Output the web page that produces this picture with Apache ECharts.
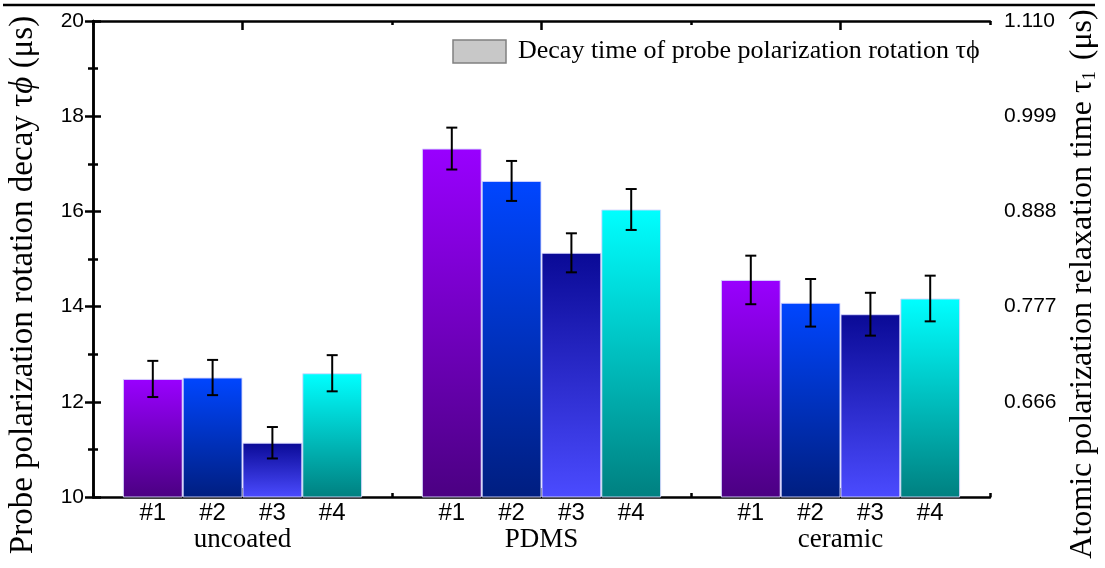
<!DOCTYPE html>
<html>
<head>
<meta charset="utf-8">
<script src="https://cdn.jsdelivr.net/npm/echarts@6/dist/echarts.min.js"></script>
<style>html,body{margin:0;padding:0;background:#fff}#c{width:1105px;height:568px}</style>
</head>
<body>
<div id="c"></div>
<script>
var groups = ['uncoated', 'PDMS', 'ceramic'];
var sampleNames = ['#1', '#2', '#3', '#4'];
var s1 = [12.48, 17.32, 14.56];
var s2 = [12.51, 16.64, 14.08];
var s3 = [11.14, 15.13, 13.84];
var s4 = [12.60, 16.04, 14.17];
var e1 = [0.38, 0.44, 0.51];
var e2 = [0.37, 0.42, 0.50];
var e3 = [0.33, 0.41, 0.45];
var e4 = [0.38, 0.43, 0.48];
var leftTicks = [10, 12, 14, 16, 18, 20];
var rightTicks = ['0.555', '0.666', '0.777', '0.888', '0.999', '1.110'];
var legendText = 'Decay time of probe polarization rotation τϕ';

var values = [s1, s2, s3, s4];
var errs = [e1, e2, e3, e4];
var gradients = [
  ['#9900ff', '#4b0082'],
  ['#0046ff', '#001e80'],
  ['#0a0a96', '#4b4bff'],
  ['#00ffff', '#008080']
];

var chart = echarts.init(document.getElementById('c'));
var series = [];
values.forEach(function (vals, i) {
  series.push({
    type: 'bar',
    name: sampleNames[i],
    xAxisIndex: 0,
    yAxisIndex: 0,
    barGap: '0%',
    barCategoryGap: '20%',
    data: vals,
    itemStyle: {
      color: new echarts.graphic.LinearGradient(0, 0, 0, 1, [
        {offset: 0, color: gradients[i][0]},
        {offset: 1, color: gradients[i][1]}
      ]),
      borderColor: 'rgba(215,215,255,0.9)',
      borderWidth: 1
    },
    label: {
      show: true,
      position: 'bottom',
      distance: 4,
      formatter: sampleNames[i],
      color: '#000',
      fontFamily: 'Liberation Sans, Arial',
      fontSize: 24
    },
    z: 2
  });
});
values.forEach(function (vals, i) {
  series.push({
    type: 'custom',
    name: 'err' + i,
    xAxisIndex: 0,
    yAxisIndex: 0,
    z: 5,
    data: vals.map(function (v, k) { return [k, v, errs[i][k]]; }),
    renderItem: function (params, api) {
      var cat = api.value(0), v = api.value(1), e = api.value(2);
      var c = api.coord([cat, v]);
      var band = api.size([1, 0])[0];
      var bw = band * 0.8 / 4;
      var x = c[0] + (i - 1.5) * bw;
      var yt = api.coord([cat, v + e])[1];
      var yb = api.coord([cat, v - e])[1];
      var cap = 5.5;
      var st = {stroke: '#000', lineWidth: 2};
      return {
        type: 'group',
        children: [
          {type: 'line', shape: {x1: x, y1: yt, x2: x, y2: yb}, style: st},
          {type: 'line', shape: {x1: x - cap, y1: yt, x2: x + cap, y2: yt}, style: st},
          {type: 'line', shape: {x1: x - cap, y1: yb, x2: x + cap, y2: yb}, style: st}
        ]
      };
    }
  });
});

var axisLine = {show: true, lineStyle: {color: '#000', width: 2.5}};
chart.setOption({
  animation: false,
  backgroundColor: '#fff',
  grid: {left: 93, right: 115, top: 21, bottom: 71, containLabel: false},
  xAxis: [
    {
      type: 'category', position: 'bottom', data: groups,
      axisLine: axisLine,
      axisTick: {show: true, inside: true, alignWithLabel: true, length: 9, lineStyle: {color: '#000', width: 2.5}},
      axisLabel: {margin: 29, color: '#000', fontFamily: 'Liberation Serif, Times New Roman', fontSize: 27},
      splitLine: {show: false}
    },
    {
      type: 'category', position: 'top', data: groups,
      axisLine: axisLine,
      axisTick: {show: true, inside: true, alignWithLabel: true, length: 9, lineStyle: {color: '#000', width: 2.5}},
      axisLabel: {show: false},
      splitLine: {show: false}
    },
    {
      type: 'value', position: 'bottom', min: 0, max: 3, interval: 1,
      axisLine: {show: false},
      axisTick: {show: true, inside: true, length: 4, lineStyle: {color: '#000', width: 2.5}},
      axisLabel: {show: false}, splitLine: {show: false}
    },
    {
      type: 'value', position: 'top', min: 0, max: 3, interval: 1,
      axisLine: {show: false},
      axisTick: {show: true, inside: true, length: 4, lineStyle: {color: '#000', width: 2.5}},
      axisLabel: {show: false}, splitLine: {show: false}
    }
  ],
  yAxis: [
    {
      type: 'value', position: 'left', min: leftTicks[0], max: leftTicks[leftTicks.length - 1], interval: 2,
      axisLine: axisLine,
      axisTick: {show: true, inside: true, length: 8, lineStyle: {color: '#000', width: 2.5}},
      minorTick: {show: true, splitNumber: 2, length: 5, lineStyle: {color: '#000', width: 2.5}},
      axisLabel: {color: '#000', fontFamily: 'Liberation Sans, Arial', fontSize: 21, margin: 9},
      splitLine: {show: false}
    },
    {
      type: 'value', position: 'right', min: 0.555, max: 1.110, interval: 0.111,
      axisLine: axisLine,
      axisTick: {show: true, inside: true, length: 8, lineStyle: {color: '#000', width: 2.5}},
      minorTick: {show: true, splitNumber: 2, length: 5, lineStyle: {color: '#000', width: 2.5}},
      axisLabel: {
        color: '#000', fontFamily: 'Liberation Sans, Arial', fontSize: 21, margin: 14,
        formatter: function (v) {
          var s = v.toFixed(3);
          return s === rightTicks[0] ? '' : s;
        }
      },
      splitLine: {show: false}
    }
  ],
  graphic: [
    {type: 'line', shape: {x1: 3, y1: 5, x2: 1095, y2: 5}, style: {stroke: '#000', lineWidth: 2.5}},
    {type: 'rect', shape: {x: 453, y: 40, width: 53, height: 23}, style: {fill: '#c8c8c8', stroke: '#808080', lineWidth: 1.5}},
    {type: 'text', left: 518, top: 38, style: {text: legendText, fill: '#000', font: '26px "Liberation Serif", "Times New Roman", serif'}},
    {
      type: 'text', x: 23, y: 285, rotation: Math.PI / 2,
      style: {
        text: 'Probe polarization rotation decay τ{i|ϕ} (μs)',
        rich: {i: {fontStyle: 'italic', fontSize: 33, fontFamily: 'Liberation Serif'}},
        fill: '#000', fontSize: 33, fontFamily: 'Liberation Serif, Times New Roman',
        align: 'center', verticalAlign: 'middle'
      }
    },
    {
      type: 'text', x: 1083, y: 284, rotation: Math.PI / 2,
      style: {
        text: 'Atomic polarization relaxation time τ{s|1} (μs)',
        rich: {s: {fontSize: 18, fontFamily: 'Liberation Serif', padding: [14, 3, 0, 0]}},
        fill: '#000', fontSize: 32, fontFamily: 'Liberation Serif, Times New Roman',
        align: 'center', verticalAlign: 'middle'
      }
    }
  ],
  series: series
});
</script>
</body>
</html>
